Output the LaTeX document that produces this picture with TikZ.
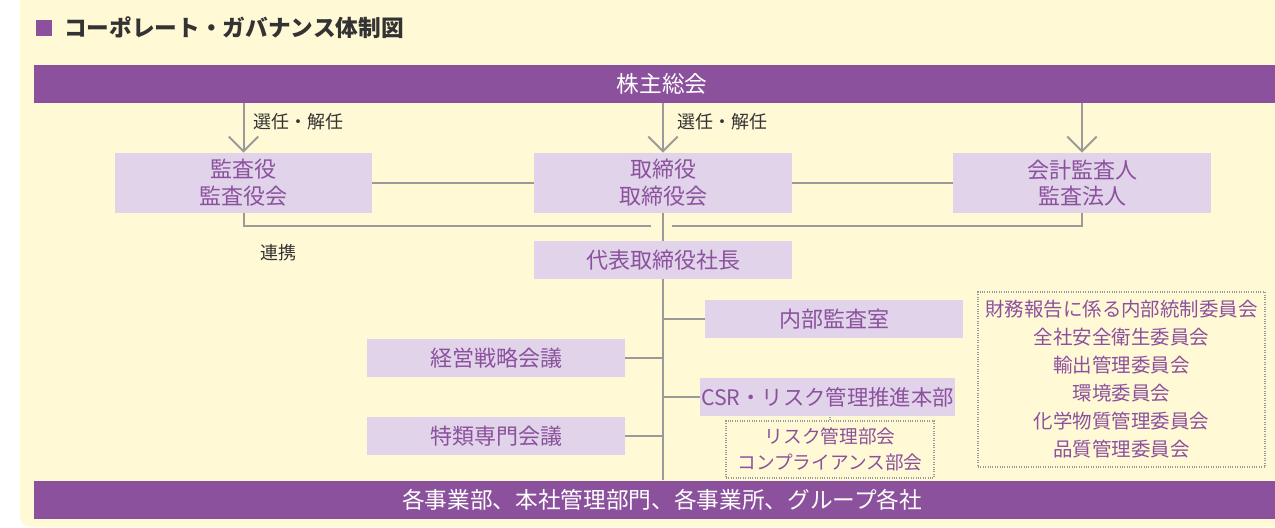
\documentclass[tikz,border=0pt]{standalone}
\usepackage{fontspec}
\setmainfont{Noto Sans CJK JP}
\usetikzlibrary{arrows.meta,calc}
\definecolor{bgyellow}{HTML}{FFF9D6}
\definecolor{barpurple}{HTML}{8C519D}
\definecolor{boxlav}{HTML}{E0D3EA}
\definecolor{txtpurple}{HTML}{8C519D}
\definecolor{linegray}{HTML}{9A9A9A}
\definecolor{darktxt}{HTML}{333333}
\tikzset{
  bar/.style={fill=barpurple, text=white, inner sep=0pt, minimum width=1256*0.75pt, minimum height=38*0.75pt, font=\fontsize{17}{20}\selectfont},
  lbox/.style={fill=boxlav, text=txtpurple, inner sep=0pt, align=center, minimum width=258*0.75pt, minimum height=38*0.75pt, font=\fontsize{16.5}{20}\selectfont},
  tallbox/.style={lbox, minimum height=60*0.75pt},
  dotbox/.style={draw=linegray, densely dotted, line width=0.8pt, text=txtpurple, inner sep=0pt, align=center},
  conn/.style={draw=linegray, line width=1.5pt},
  arr/.style={conn, -{Straight Barb[length=11pt, width=22pt, line width=1.5pt]}},
  dotconn/.style={draw=linegray, densely dotted, line width=0.8pt},
  lbl/.style={text=darktxt, font=\fontsize{13.5}{16}\selectfont, inner sep=0pt}
}
\begin{document}
\begin{tikzpicture}[x=0.75pt,y=-0.75pt]
\useasboundingbox (0,0) rectangle (1275,528);
\fill[white] (0,0) rectangle (1275,528);
\fill[bgyellow, rounded corners=8pt] (20,-20) rectangle (1300,527);
% title
\fill[barpurple] (36,20) rectangle (52,36);
\node[anchor=west, text=darktxt, inner sep=0pt, font=\bfseries\fontsize{17}{20}\selectfont] (title) at (64,28) {コーポレート・ガバナンス体制図};
% bars
\node[bar] (top) at (662,84) {株主総会};
\node[bar] (bottom) at (662,499.5) {各事業部、本社管理部門、各事業所、グループ各社};
% boxes
\node[tallbox, minimum width=257*0.75pt] (kansa) at (243.5,183) {監査役\\監査役会};
\node[tallbox] (tori) at (663,183) {取締役\\取締役会};
\node[tallbox] (kaikei) at (1082,183) {会計監査人\\監査法人};
\node[lbox] (daihyo) at (663,260) {代表取締役社長};
\node[lbox] (naibu) at (834,319) {内部監査室};
\node[lbox] (keiei) at (496,358) {経営戦略会議};
\node[lbox, minimum width=255*0.75pt, font=\fontsize{16}{20}\selectfont] (csr) at (827.5,397) {CSR・リスク管理推進本部};
\node[lbox] (tokurui) at (496,436) {特類専門会議};
\node[dotbox, minimum width=208*0.75pt, minimum height=57*0.75pt, font=\fontsize{14}{19.5}\selectfont] (risk) at (830,449.5) {リスク管理部会\\コンプライアンス部会};
\node[dotbox, minimum width=287*0.75pt, minimum height=175*0.75pt, font=\fontsize{14.6}{21}\selectfont] (iinkai) at (1121.5,379.5) {財務報告に係る内部統制委員会\\全社安全衛生委員会\\輸出管理委員会\\環境委員会\\化学物質管理委員会\\品質管理委員会};
% arrows from shareholders
\draw[arr] (kansa.north |- top.south) -- (kansa.north);
\draw[arr] (tori.north |- top.south) -- (tori.north);
\draw[arr] (kaikei.north |- top.south) -- (kaikei.north);
\node[lbl, anchor=west] (lbl1) at (253,122) {選任・解任};
\node[lbl, anchor=west] (lbl2) at (677,122) {選任・解任};
% horizontal links
\draw[conn] (kansa.east) -- (tori.west);
\draw[conn] (tori.east) -- (kaikei.west);
% renkei line with gap
\coordinate (gapL) at (651,226);
\coordinate (gapR) at (672,226);
\draw[conn] (kansa.south) |- (gapL);
\draw[conn] (gapR) -| (kaikei.south);
\node[lbl] (renkei) at (278,253) {連携};
% trunk
\draw[conn] (tori.south) -- (daihyo.north);
\draw[conn] (daihyo.south) -- (daihyo.south |- bottom.north);
\draw[conn] (naibu.west) -- (naibu.west -| daihyo.south);
\draw[conn] (keiei.east) -- (keiei.east -| daihyo.south);
\draw[conn] (csr.west) -- (csr.west -| daihyo.south);
\draw[conn] (tokurui.east) -- (tokurui.east -| daihyo.south);
% dotted links
\draw[dotconn] (risk.north) -- (risk.north |- csr.south);
\draw[dotconn] ($(risk.north east)!0.25!(risk.south east)$) -- ($(risk.north east)!0.25!(risk.south east)$ -| iinkai.west);
\end{tikzpicture}
\end{document}
